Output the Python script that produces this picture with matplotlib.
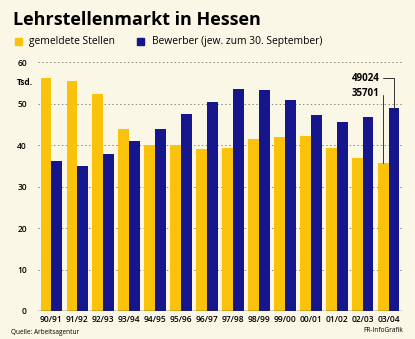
import matplotlib.pyplot as plt
import numpy as np

# Data (Tsd.)
jahre = ['90/91', '91/92', '92/93', '93/94', '94/95', '95/96', '96/97',
         '97/98', '98/99', '99/00', '00/01', '01/02', '02/03', '03/04']
stellen = [56.3, 55.4, 52.3, 44.0, 40.1, 40.1, 39.1, 39.3, 41.5, 42.0, 42.3, 39.3, 36.9, 35.701]
bewerber = [36.1, 35.1, 37.9, 40.9, 44.0, 47.5, 50.4, 53.5, 53.3, 51.0, 47.3, 45.6, 46.8, 49.024]
yticks = [0, 10, 20, 30, 40, 50, 60]

bg = '#fbf7e6'
gelb = '#fbc20c'
blau = '#16168c'
font = 'Open Sans'

fig = plt.figure(figsize=(4.15, 3.39), dpi=100, facecolor=bg)
ax = fig.add_axes([38/415, 28/339, 364/415, 248.7/339])
ax.set_facecolor(bg)

x = np.arange(len(jahre))
w = 0.42
ax.bar(x - w/2, stellen, w, color=gelb, zorder=2)
ax.bar(x + w/2, bewerber, w, color=blau, zorder=2)

ax.set_xlim(-0.52, 13.52)
ax.set_ylim(0, 60)
for v in yticks[1:]:
    ax.axhline(v, color='#8a8a80', lw=0.7, ls=(0, (1.5, 2.5)), zorder=1)
ax.axhline(0, color='#333333', lw=1.0, zorder=3)

for s in ax.spines.values():
    s.set_visible(False)
ax.set_yticks(yticks)
ax.set_yticklabels([str(v) for v in yticks], fontsize=6, family=font, fontweight='semibold')
ax.set_xticks(x)
ax.set_xticklabels(jahre, fontsize=6, family=font, fontweight='semibold')
ax.tick_params(length=0, pad=8, axis='y')
ax.tick_params(length=0, pad=3, axis='x')

ax.text(-0.013, 0.92, 'Tsd.', transform=ax.transAxes, ha='right', va='center',
        fontsize=6, family=font, fontweight='bold')

# annotations for last year
i = len(jahre) - 1
ax.annotate('49024', xy=(i + w/2, bewerber[i]), xytext=(i - 0.36, 56.2),
            fontsize=7, family=font, fontweight='bold', ha='right', va='center',
            arrowprops=dict(arrowstyle='-', color='#333333', lw=0.7,
                            connectionstyle='angle,angleA=0,angleB=90,rad=0',
                            shrinkA=1, shrinkB=0))
ax.annotate('35701', xy=(i - w/2, stellen[i]), xytext=(i - 0.36, 52.4),
            fontsize=7, family=font, fontweight='bold', ha='right', va='center',
            arrowprops=dict(arrowstyle='-', color='#333333', lw=0.7,
                            connectionstyle='angle,angleA=0,angleB=90,rad=0',
                            shrinkA=1, shrinkB=0))

# title and legend
fig.text(13/415, 1 - 20/339, 'Lehrstellenmarkt in Hessen', fontsize=13,
         family=font, fontweight='bold', va='center', ha='left')
fig.patches.append(plt.Rectangle((15/415, 1 - 45/339), 7/415, 7/339,
                                 transform=fig.transFigure, color=gelb))
fig.text(29/415, 1 - 41.5/339, 'gemeldete Stellen', fontsize=7.4, family=font,
         va='center', ha='left')
fig.patches.append(plt.Rectangle((137/415, 1 - 45/339), 7/415, 7/339,
                                 transform=fig.transFigure, color=blau))
fig.text(152/415, 1 - 41.5/339, 'Bewerber (jew. zum 30. September)', fontsize=7.4,
         family=font, va='center', ha='left')

fig.text(11/415, 1 - 333/339, 'Quelle: Arbeitsagentur', fontsize=4.7, family=font,
         va='center', ha='left')
fig.text(403/415, 1 - 331/339, 'FR-InfoGrafik', fontsize=4.7, family=font,
         va='center', ha='right')

plt.savefig('out.png', dpi=100, facecolor=bg)
